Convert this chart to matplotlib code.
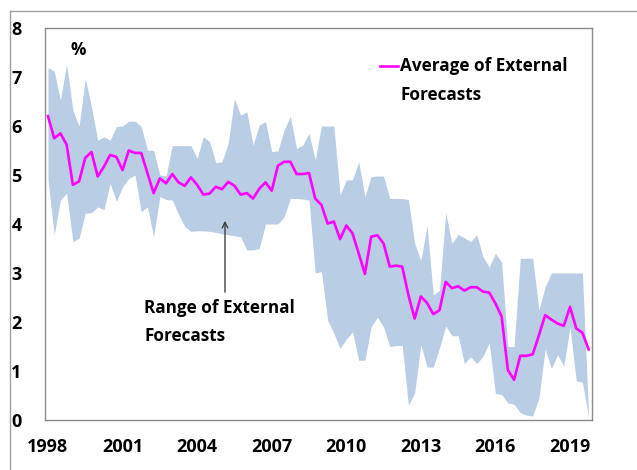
import matplotlib
matplotlib.use('Agg')
import matplotlib.pyplot as plt
import numpy as np
from matplotlib.lines import Line2D

# quarterly, 1998Q1 - 2019Q4
avg = [6.20, 5.75, 5.85, 5.62, 4.80, 4.87, 5.35, 5.47, 4.97, 5.17, 5.41, 5.37,
       5.10, 5.50, 5.45, 5.45, 5.04, 4.63, 4.93, 4.83, 5.02, 4.85, 4.78, 4.95,
       4.80, 4.60, 4.62, 4.76, 4.71, 4.86, 4.78, 4.60, 4.63, 4.52, 4.72, 4.85,
       4.68, 5.19, 5.27, 5.27, 5.02, 5.02, 5.04, 4.52, 4.39, 4.01, 4.05, 3.69,
       3.97, 3.81, 3.40, 2.98, 3.74, 3.77, 3.60, 3.13, 3.15, 3.13, 2.55, 2.07,
       2.52, 2.39, 2.16, 2.24, 2.82, 2.69, 2.73, 2.64, 2.71, 2.71, 2.62, 2.60,
       2.38, 2.11, 1.02, 0.82, 1.31, 1.31, 1.34, 1.73, 2.14, 2.05, 1.97, 1.92,
       2.31, 1.87, 1.78, 1.44]

upper = [7.19, 7.12, 6.53, 7.26, 6.33, 5.99, 6.97, 6.39, 5.71, 5.78, 5.71, 5.99,
         6.00, 6.10, 6.10, 5.99, 5.51, 5.50, 5.00, 4.98, 5.60, 5.60, 5.60, 5.60,
         5.34, 5.78, 5.68, 5.25, 5.27, 5.65, 6.56, 6.22, 6.29, 5.61, 6.02, 6.09,
         5.48, 5.49, 5.92, 6.20, 5.54, 5.61, 5.85, 5.31, 6.00, 6.00, 6.00, 4.60,
         4.90, 4.90, 5.27, 4.56, 4.97, 4.98, 4.98, 4.52, 4.52, 4.52, 4.50, 3.61,
         3.25, 3.97, 2.55, 2.65, 4.23, 3.60, 3.79, 3.72, 3.64, 3.78, 3.33, 3.12,
         3.40, 3.22, 1.50, 1.50, 3.30, 3.30, 3.30, 2.24, 2.72, 3.00, 3.00, 3.00,
         3.00, 3.00, 3.00, 0.07]

lower = [4.90, 3.78, 4.49, 4.63, 3.64, 3.71, 4.22, 4.23, 4.35, 4.29, 4.83, 4.46,
         4.76, 4.93, 5.00, 4.25, 4.35, 3.74, 4.56, 4.50, 4.49, 4.20, 3.95, 3.85,
         3.86, 3.86, 3.85, 3.83, 3.80, 3.78, 3.76, 3.74, 3.47, 3.47, 3.50, 4.00,
         4.00, 4.00, 4.15, 4.52, 4.52, 4.51, 4.49, 3.00, 3.03, 2.04, 1.77, 1.46,
         1.65, 1.80, 1.22, 1.22, 1.90, 2.10, 1.90, 1.50, 1.52, 1.52, 0.30, 0.55,
         1.54, 1.08, 1.08, 1.47, 1.92, 1.72, 1.72, 1.15, 1.29, 1.15, 1.30, 1.58,
         0.54, 0.52, 0.35, 0.32, 0.15, 0.10, 0.08, 0.45, 1.45, 1.05, 1.33, 1.10,
         1.90, 0.80, 0.77, 0.05]

x_ticks = [1998, 2001, 2004, 2007, 2010, 2013, 2016, 2019]
y_ticks = [0, 1, 2, 3, 4, 5, 6, 7, 8]

years = 1998 + np.arange(len(avg)) * 0.25

W, H = 637, 470
plt.rcParams['font.family'] = ['Open Sans', 'DejaVu Sans']
plt.rcParams['font.weight'] = 'bold'

fig = plt.figure(figsize=(W / 100, H / 100), dpi=100)


def fpx(x, y):
    # pixel position -> figure fraction
    return x / W, 1 - y / H


ax = fig.add_axes([45 / W, 50 / H, 547 / W, 392 / H])

ax.fill_between(years, lower, upper, color='#b9cde5', lw=0)
ax.plot(years, avg, color='#ff00ff', lw=1.9)

ax.set_xlim(1997.88, 2019.885)
ax.set_ylim(0, 8)
ax.set_xticks(x_ticks)
ax.set_yticks(y_ticks)
ax.tick_params(length=0, labelsize=13)
ax.tick_params(axis='y', pad=17)
ax.tick_params(axis='x', pad=13)
for lab in ax.get_xticklabels() + ax.get_yticklabels():
    lab.set_fontweight('bold')
for s in ax.spines.values():
    s.set_color('#8c8c8c')
    s.set_linewidth(1)

# outer frame
fig.add_artist(Line2D([10 / W, 1], [1 - 11 / H] * 2, transform=fig.transFigure,
                      color='#a0a0a0', lw=1))
fig.add_artist(Line2D([10 / W] * 2, [0, 1 - 11 / H], transform=fig.transFigure,
                      color='#a0a0a0', lw=1))

txt = dict(fontsize=12.3, fontweight='bold', va='center')
fig.text(*fpx(78, 50), '%', ha='center', **txt)

# legend
fig.add_artist(Line2D([380 / W, 398 / W], [1 - 66 / H] * 2, transform=fig.transFigure,
                      color='#ff00ff', lw=1.9))
fig.text(*fpx(400, 66), 'Average of External', ha='left', **txt)
fig.text(*fpx(400, 95), 'Forecasts', ha='left', **txt)

# annotation for the range
ax.annotate('', xy=fpx(225, 218), xycoords='figure fraction',
            xytext=fpx(225, 295), textcoords='figure fraction',
            arrowprops=dict(arrowstyle='->', color='#404040', lw=1))
fig.text(*fpx(144, 308), 'Range of External', ha='left', **txt)
fig.text(*fpx(144, 336), 'Forecasts', ha='left', **txt)

fig.savefig('out.png', dpi=100)
